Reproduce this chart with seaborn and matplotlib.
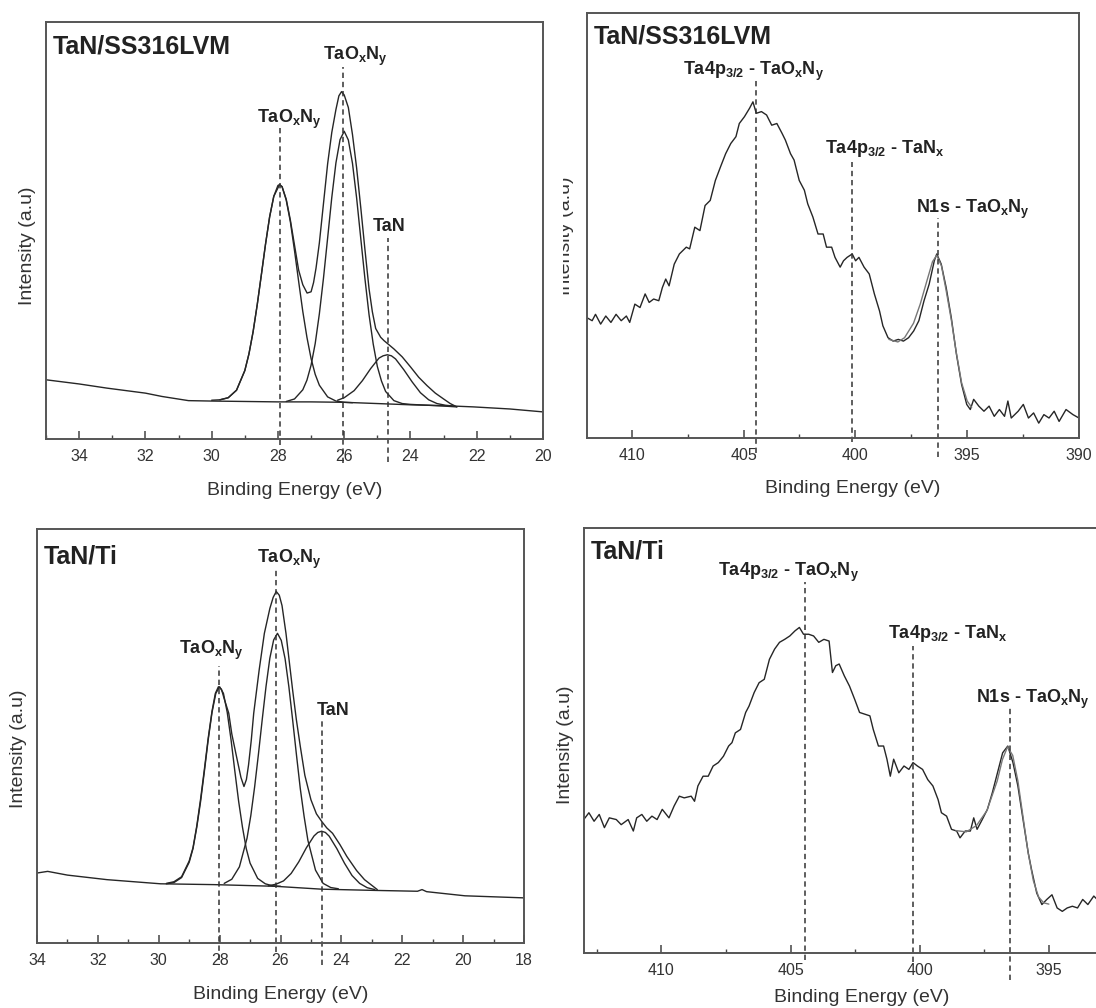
import numpy as np
import matplotlib
matplotlib.use('Agg')
import matplotlib.pyplot as plt
import seaborn as sns
from matplotlib.ticker import MultipleLocator, FixedLocator
from matplotlib.transforms import Bbox

sns.set_style('white')
plt.rcParams['font.family'] = ['Liberation Sans', 'DejaVu Sans']
plt.rcParams['mathtext.fontset'] = 'custom'
plt.rcParams['mathtext.rm'] = 'Liberation Sans'
plt.rcParams['mathtext.bf'] = 'Liberation Sans:bold'
plt.rcParams['mathtext.it'] = 'Liberation Sans:italic'

# ---------------- data (intensity in % of panel height) ----------------
# Ta4f, TaN/SS316LVM
ss_bg_x = [35, 34, 33.16, 32, 31.5, 30.7, 30, 29, 28, 27, 26, 25, 24, 23, 22.1, 21, 20]
ss_bg_y = [14.2, 13.2, 12.2, 11.0, 10.2, 9.2, 9.1, 9.0, 8.9, 8.9, 8.8, 8.5, 8.2, 8.0, 7.7, 7.2, 6.5]
ss_env_x = [29.75, 29.5, 29.25, 29.0, 28.875, 28.75, 28.625, 28.5, 28.375, 28.25, 28.125, 27.95,
            27.875, 27.75, 27.625, 27.5, 27.375, 27.25, 27.12, 27.0, 26.925, 26.85, 26.75, 26.625,
            26.5, 26.375, 26.25, 26.16, 26.08, 26.0, 25.875, 25.75, 25.625, 25.5, 25.375, 25.25,
            25.15, 25.05, 24.9, 24.8, 24.5, 24.25, 24.0, 23.75, 23.5, 23.25, 23.0, 22.8, 22.6]
ss_env_y = [9.4, 9.9, 11.7, 16.4, 20.4, 25.7, 32.2, 39.4, 46.7, 53.3, 58.2, 61.0,
            60.5, 57.5, 52.5, 46.5, 40.5, 37.0, 35.0, 35.3, 37.5, 41.0, 47.0, 56.5,
            66.0, 73.5, 79.0, 82.3, 83.3, 82.5, 79.5, 73.0, 65.0, 55.5, 45.5, 36.0,
            30.5, 26.5, 24.4, 23.6, 21.6, 19.7, 17.3, 14.8, 12.8, 11.0, 9.6, 8.5, 7.7]
ss_c1_x = [30.0, 29.75, 29.5, 29.25, 29.0, 28.875, 28.75, 28.625, 28.5, 28.375, 28.25, 28.125,
           28.0, 27.95, 27.875, 27.75, 27.625, 27.5, 27.375, 27.25, 27.125, 27.0, 26.875, 26.75,
           26.5, 26.25, 26.0, 25.75]
ss_c1_y = [9.3, 9.4, 9.9, 11.7, 16.4, 20.4, 25.7, 32.2, 39.4, 46.7, 53.3, 58.2,
           60.8, 61.0, 60.5, 57.3, 52.1, 45.2, 37.8, 30.6, 24.4, 19.3, 15.5, 12.9,
           10.1, 9.1, 8.8, 8.7]
ss_c2_x = [27.75, 27.5, 27.25, 27.125, 27.0, 26.875, 26.75, 26.625, 26.5, 26.375, 26.25, 26.125,
           26.0, 25.875, 25.75, 25.625, 25.5, 25.375, 25.25, 25.125, 25.0, 24.875, 24.75, 24.5,
           24.25, 24.0, 23.5, 23.0, 22.6]
ss_c2_y = [9.0, 9.6, 11.8, 14.1, 17.7, 22.9, 30.0, 38.6, 48.2, 57.9, 66.2, 71.8,
           73.8, 71.7, 66.1, 57.8, 48.1, 38.5, 29.8, 22.8, 17.4, 13.9, 11.4, 9.2,
           8.5, 8.3, 8.1, 7.9, 7.7]
ss_c3_x = [26.2, 26.0, 25.7, 25.45, 25.2, 24.95, 24.825, 24.7, 24.575, 24.45, 24.2, 23.95, 23.7,
           23.45, 23.2, 22.95, 22.7]
ss_c3_y = [9.3, 9.9, 11.6, 14.0, 16.9, 19.4, 19.95, 20.2, 19.95, 19.2, 16.6, 13.7, 11.1,
           9.4, 8.5, 8.1, 7.9]

# Ta4f, TaN/Ti
ti_bg_x = [34, 33.65, 33, 31.7, 29.94, 28.18, 26.18, 24.65, 22.88, 21.5, 21.35, 21.2, 19.94, 18]
ti_bg_y = [16.9, 17.3, 16.4, 15.3, 14.3, 14.1, 13.7, 13.0, 12.7, 12.5, 12.9, 12.4, 11.4, 10.9]
ti_env_x = [29.75, 29.5, 29.25, 29.0, 28.875, 28.75, 28.625, 28.5, 28.375, 28.25, 28.14, 28.04,
            27.94, 27.85, 27.7, 27.6, 27.47, 27.3, 27.2, 27.12, 27.05, 26.96, 26.88, 26.7,
            26.53, 26.35, 26.24, 26.14, 26.04, 25.95, 25.82, 25.72, 25.6, 25.48, 25.35, 25.2,
            25.0, 24.82, 24.65, 24.48, 24.29, 24.05, 23.82, 23.5, 23.24, 22.82]
ti_env_y = [14.4, 14.8, 16.0, 19.8, 23.0, 28.3, 34.8, 42.0, 49.5, 56.0, 60.3, 61.9,
            61.3, 59.0, 55.5, 50.5, 45.9, 40.0, 37.8, 39.5, 43.0, 49.0, 55.5, 66.0,
            74.8, 80.8, 83.5, 84.9, 84.0, 81.5, 74.8, 68.5, 61.0, 54.0, 47.5, 40.5,
            34.6, 31.2, 29.4, 27.8, 26.5, 23.8, 20.9, 17.5, 15.3, 12.9]
ti_c1_x = [29.75, 29.5, 29.25, 29.0, 28.875, 28.75, 28.625, 28.5, 28.375, 28.25, 28.125, 28.0,
           27.875, 27.75, 27.625, 27.5, 27.375, 27.25, 27.125, 27.0, 26.75, 26.5, 26.25, 26.0]
ti_c1_y = [14.3, 14.6, 15.8, 19.5, 22.8, 28.0, 34.2, 41.5, 49.1, 55.7, 60.3, 61.9,
           60.3, 55.7, 49.1, 41.5, 34.2, 28.0, 22.8, 19.3, 15.6, 14.3, 13.8, 13.7]
ti_c2_x = [27.85, 27.6, 27.35, 27.1, 26.975, 26.85, 26.725, 26.6, 26.475, 26.35, 26.225, 26.1,
           25.975, 25.85, 25.725, 25.6, 25.475, 25.35, 25.225, 25.1, 24.85, 24.6, 24.35, 24.1]
ti_c2_y = [14.4, 15.4, 18.4, 25.3, 30.8, 37.7, 45.6, 54.0, 62.0, 68.8, 73.2, 74.8,
           73.1, 68.7, 61.9, 53.8, 45.4, 37.3, 30.6, 24.8, 17.6, 14.4, 13.4, 13.1]
ti_c3_x = [26.4, 26.15, 25.9, 25.65, 25.4, 25.15, 24.9, 24.775, 24.65, 24.525, 24.4, 24.15, 23.9,
           23.65, 23.4, 23.15, 22.9]
ti_c3_y = [13.8, 14.2, 15.0, 16.8, 19.6, 23.0, 25.85, 26.7, 27.0, 26.7, 25.8, 22.8, 19.3,
           16.3, 14.4, 13.35, 12.9]

# N1s / Ta4p3/2, TaN/SS316LVM
ss_n_x = [412.00, 411.77, 411.62, 411.39, 411.16, 410.93, 410.70, 410.47, 410.24, 410.09,
          409.86, 409.63, 409.40, 409.22, 409.02, 408.79, 408.63, 408.48, 408.33, 408.10,
          407.87, 407.56, 407.41, 407.18, 406.95, 406.72, 406.49, 406.26, 406.03, 405.80,
          405.57, 405.34, 405.19, 404.96, 404.73, 404.58, 404.43, 404.20, 403.97, 403.74,
          403.51, 403.28, 403.13, 402.90, 402.74, 402.51, 402.28, 402.13, 401.90, 401.67,
          401.44, 401.29, 401.06, 400.91, 400.68, 400.53, 400.37, 400.14, 399.99, 399.84,
          399.61, 399.38, 399.15, 398.92, 398.77, 398.54, 398.31, 398.08, 397.85, 397.62,
          397.39, 397.16, 396.93, 396.70, 396.47, 396.36, 396.16, 395.94, 395.71, 395.48,
          395.25, 395.02, 394.86, 394.71, 394.48, 394.25, 394.02, 393.79, 393.56, 393.33,
          393.18, 393.03, 392.72, 392.49, 392.26, 392.03, 391.80, 391.57, 391.34, 391.11,
          390.89, 390.58, 390.27, 390.00]
ss_n_y = [28.3, 27.6, 29.1, 26.8, 28.7, 27.2, 29.1, 27.6, 28.7, 27.2,
          31.5, 30.7, 33.9, 31.9, 32.7, 32.3, 35.4, 37.4, 35.8, 40.9,
          43.3, 44.9, 44.5, 49.6, 48.8, 54.7, 55.9, 60.6, 63.8, 66.9,
          69.3, 70.9, 74.0, 75.6, 77.6, 79.1, 76.4, 76.8, 76.0, 73.6,
          74.0, 71.7, 70.1, 66.9, 65.4, 60.6, 58.3, 55.1, 52.0, 48.0,
          48.0, 44.9, 44.9, 42.5, 40.2, 41.7, 42.5, 43.3, 41.7, 42.5,
          40.2, 38.6, 33.9, 29.9, 26.4, 23.6, 22.8, 23.2, 22.8, 23.6,
          25.2, 27.6, 32.3, 36.2, 41.7, 43.3, 40.9, 35.4, 28.3, 19.7,
          12.6, 7.9, 6.7, 9.1, 7.5, 6.3, 7.5, 5.1, 6.7, 5.1,
          8.7, 4.7, 6.3, 7.9, 4.7, 5.9, 3.5, 5.5, 4.7, 6.3,
          3.9, 6.7, 5.5, 4.7]
ss_fit_x = [398.5, 398.1, 397.8, 397.4, 397.1, 396.8, 396.55, 396.36, 396.15, 395.95, 395.7,
            395.5, 395.25, 395.0, 394.8]
ss_fit_y = [23.2, 22.6, 23.6, 27.0, 31.5, 37.0, 41.5, 43.0, 40.5, 35.0, 27.5,
            20.5, 13.0, 8.7, 7.2]

# N1s / Ta4p3/2, TaN/Ti
ti_n_x = [413.01, 412.81, 412.61, 412.41, 412.21, 412.02, 411.75, 411.56, 411.29, 411.09,
          410.96, 410.76, 410.57, 410.37, 410.17, 409.97, 409.71, 409.51, 409.31, 409.12,
          408.85, 408.72, 408.59, 408.39, 408.19, 408.00, 407.80, 407.60, 407.40, 407.27,
          407.14, 406.94, 406.74, 406.61, 406.41, 406.22, 406.02, 405.82, 405.62, 405.43,
          405.23, 405.03, 404.83, 404.66, 404.50, 404.30, 404.11, 403.91, 403.71, 403.51,
          403.38, 403.25, 403.12, 402.92, 402.72, 402.52, 402.33, 402.13, 401.93, 401.80,
          401.60, 401.40, 401.27, 401.14, 401.01, 400.81, 400.61, 400.42, 400.26, 400.09,
          399.89, 399.69, 399.49, 399.29, 399.16, 398.96, 398.77, 398.57, 398.44, 398.24,
          398.04, 397.91, 397.78, 397.58, 397.38, 397.19, 396.99, 396.79, 396.59, 396.39,
          396.20, 396.00, 395.80, 395.67, 395.47, 395.27, 395.08, 394.88, 394.68, 394.48,
          394.29, 394.09, 393.89, 393.69, 393.49, 393.26, 393.0, 392.7, 392.4, 392.0]
ti_n_y = [31.4, 33.0, 31.0, 32.6, 29.5, 31.8, 31.4, 30.2, 31.4, 28.7,
          31.8, 32.6, 31.0, 32.2, 31.4, 33.8, 31.8, 34.6, 36.9, 36.5,
          36.9, 35.7, 39.3, 41.6, 41.6, 44.0, 44.8, 46.3, 48.7, 49.5,
          51.8, 52.6, 56.6, 58.1, 61.3, 63.6, 64.4, 69.1, 71.5, 73.1,
          73.8, 74.6, 75.8, 76.6, 75.0, 75.0, 74.6, 73.1, 73.8, 73.4,
          66.0, 67.6, 68.0, 65.2, 62.8, 59.7, 56.6, 56.2, 55.8, 52.6,
          48.7, 48.7, 45.6, 41.6, 45.6, 42.4, 44.0, 43.2, 44.8, 44.0,
          43.2, 40.8, 39.3, 36.1, 33.0, 32.2, 29.1, 28.7, 27.1, 28.7,
          28.7, 31.8, 29.1, 31.4, 33.8, 37.7, 42.4, 47.1, 48.7, 44.8,
          39.3, 31.4, 23.6, 19.6, 14.1, 11.4, 12.6, 13.7, 10.6, 9.8,
          10.6, 11.0, 10.6, 12.6, 11.4, 13.4, 11.8, 12.8, 11.0, 12.2]
ti_fit_x = [398.6, 398.2, 397.8, 397.4, 397.0, 396.8, 396.6, 396.4, 396.2, 396.0, 395.8,
            395.6, 395.4, 395.2, 395.0]
ti_fit_y = [28.8, 28.5, 30.0, 33.5, 40.5, 45.5, 48.5, 46.5, 40.5, 32.0, 23.5,
            17.0, 13.2, 11.8, 11.5]

# peak assignments
TAOXNY = r'TaO$_\mathbf{x}$N$_\mathbf{y}$'
ta4f_labels = [TAOXNY, TAOXNY, 'TaN']
n1s_labels = [r'Ta4p$_\mathbf{3/2}$ - ' + TAOXNY, r'Ta4p$_\mathbf{3/2}$ - TaN$_\mathbf{x}$',
              'N1s - ' + TAOXNY]
ss_ta4f_peaks = [27.94, 26.03, 24.67]
ti_ta4f_peaks = [28.03, 26.15, 24.64]
ss_n1s_peaks = [404.45, 400.15, 396.3]
ti_n1s_peaks = [404.46, 400.27, 396.5]
n1s_ticks = [410, 405, 400, 395, 390]

W, H = 1096, 1008
LINE = '#262626'
FIT = '#777777'
SPINE = '#555555'
TXT = '#222222'

fig = plt.figure(figsize=(W / 100, H / 100), dpi=100)


def px_axes(left, top, right, bottom):
    return fig.add_axes([left / W, 1 - bottom / H, (right - left) / W, (bottom - top) / H])


def style_axes(ax, xlim, major, minor, title, title_dy, xlab_x, xlab_y, majors=None):
    ax.set_xlim(*xlim)
    ax.set_ylim(0, 100)
    ax.set_yticks([])
    ax.set_ylabel('')
    if majors is None:
        ax.xaxis.set_major_locator(MultipleLocator(major))
    else:
        ax.xaxis.set_major_locator(FixedLocator(majors))
    ax.xaxis.set_minor_locator(MultipleLocator(minor))
    ax.tick_params(axis='x', which='major', direction='in', length=6, width=1.1,
                   color='#444444', labelsize=11.5, labelcolor='#333333', pad=7,
                   bottom=True, top=False)
    ax.tick_params(axis='x', which='minor', direction='in', length=3, width=1.0,
                   color='#444444', bottom=True, top=False)
    for s in ax.spines.values():
        s.set_visible(True)
        s.set_color(SPINE)
        s.set_linewidth(1.4)
    ax.set_xlabel('Binding Energy (eV)', fontsize=14, color='#333333')
    ax.xaxis.set_label_coords(xlab_x, xlab_y)
    ax.annotate(title, xy=(0, 1), xycoords='axes fraction', xytext=(5, title_dy),
                textcoords='offset points', ha='left', va='top', fontsize=18,
                fontweight='bold', color=TXT)


def curve(ax, x, y, color=LINE, lw=1.0):
    sns.lineplot(x=x, y=y, ax=ax, color=color, linewidth=lw, estimator=None, sort=False)


def markers(ax, peaks, labels, tops, bottoms, lefts, bases, fs):
    for e, lab, t, b, l, yb in zip(peaks, labels, tops, bottoms, lefts, bases):
        ax.plot([e, e], [b, t], ls=(0, (3.5, 2.5)), color='#333333', lw=1.1, clip_on=False)
        ax.text(l, yb, lab, ha='left', va='baseline', fontsize=fs, fontweight='bold', color=TXT)


# ---------- top left: Ta4f TaN/SS316LVM ----------
ax1 = px_axes(46, 22, 543, 439)
for xs, ys in [(ss_bg_x, ss_bg_y), (ss_c1_x, ss_c1_y), (ss_c2_x, ss_c2_y),
               (ss_c3_x, ss_c3_y), (ss_env_x, ss_env_y)]:
    curve(ax1, xs, ys)
style_axes(ax1, (35, 20), 2, 1, 'TaN/SS316LVM', -9, 0.5, -0.103)
markers(ax1, ss_ta4f_peaks, ta4f_labels, [74.5, 89.3, 48.2], [-1.4, -5.8, -5.5],
        [28.63, 26.64, 25.13], [75.8, 90.9, 49.9], 13)

# ---------- top right: N1s TaN/SS316LVM ----------
ax2 = px_axes(587, 13, 1079, 438)
curve(ax2, ss_n_x, ss_n_y)
curve(ax2, ss_fit_x, ss_fit_y, color=FIT)
style_axes(ax2, (412, 390), 5, 2.5, 'TaN/SS316LVM', -8.5, 0.539, -0.098, majors=n1s_ticks)
markers(ax2, ss_n1s_peaks, n1s_labels, [84.2, 65.0, 51.8], [-3.5, -0.9, -4.5],
        [407.72, 401.37, 397.31], [85.4, 67.0, 52.9], 13)

# ---------- bottom left: Ta4f TaN/Ti ----------
ax3 = px_axes(37, 529, 524, 943)
for xs, ys in [(ti_bg_x, ti_bg_y), (ti_c1_x, ti_c1_y), (ti_c2_x, ti_c2_y),
               (ti_c3_x, ti_c3_y), (ti_env_x, ti_env_y)]:
    curve(ax3, xs, ys)
style_axes(ax3, (34, 18), 2, 1, 'TaN/Ti', -11.5, 0.5, -0.103)
markers(ax3, ti_ta4f_peaks, ta4f_labels, [66.8, 90.5, 54.3], [-4.0, -2.2, -5.3],
        [29.35, 26.76, 24.82], [69.8, 91.7, 55.1], 13)

# ---------- bottom right: N1s TaN/Ti (runs off the page) ----------
ax4 = px_axes(584, 528, 1178, 953)
curve(ax4, ti_n_x, ti_n_y)
curve(ax4, ti_fit_x, ti_fit_y, color=FIT)
style_axes(ax4, (413, 390), 5, 2.5, 'TaN/Ti', -8.5, 0.468, -0.085, majors=n1s_ticks[:-1])
markers(ax4, ti_n1s_peaks, n1s_labels, [87.2, 72.3, 57.7], [-1.6, -2.0, -6.4],
        [407.8, 401.21, 397.84], [88.8, 74.2, 58.9], 13)

# y labels placed in figure pixels
for xp, yp, clip_left in [(28, 246, None), (19, 749, None), (566, 745, None), (565, 236, 563)]:
    t = fig.text(xp / W, 1 - yp / H, 'Intensity (a.u)', rotation=90, ha='center',
                 va='center', fontsize=14, color='#333333')
    if clip_left is not None:
        t.set_clip_box(Bbox.from_extents(clip_left, 0, W, H))
        t.set_clip_on(True)

fig.savefig('out.png', dpi=100, facecolor='white')
